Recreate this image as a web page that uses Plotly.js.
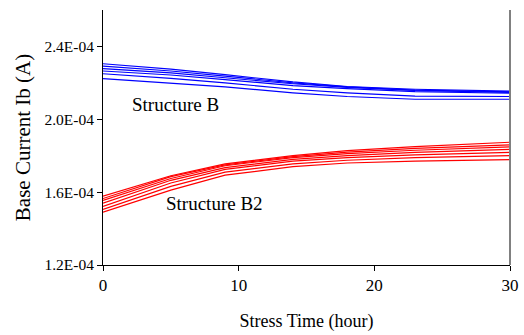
<!DOCTYPE html>
<html><head><meta charset="utf-8">
<script src="https://cdn.plot.ly/plotly-3.0.1.min.js"></script>
<style>html,body{margin:0;padding:0;background:#fff;}#chart{width:524px;height:335px;}</style>
</head><body><div id="chart"></div>
<script>
const hours = [0, 5, 9, 14, 18, 23, 30];
// Structure B (Ib in units of 1E-04 A)
const structB = [
  [2.305, 2.275, 2.245, 2.205, 2.180, 2.165, 2.155],
  [2.292, 2.265, 2.237, 2.200, 2.178, 2.160, 2.150],
  [2.278, 2.255, 2.228, 2.195, 2.175, 2.158, 2.148],
  [2.265, 2.243, 2.218, 2.185, 2.168, 2.152, 2.143],
  [2.250, 2.225, 2.200, 2.165, 2.145, 2.127, 2.125],
  [2.223, 2.200, 2.178, 2.145, 2.125, 2.110, 2.110]
];
// Structure B2
const structB2 = [
  [1.578, 1.690, 1.755, 1.800, 1.828, 1.850, 1.874],
  [1.565, 1.685, 1.750, 1.795, 1.820, 1.840, 1.860],
  [1.555, 1.675, 1.745, 1.790, 1.812, 1.830, 1.848],
  [1.540, 1.665, 1.735, 1.780, 1.800, 1.818, 1.835],
  [1.522, 1.650, 1.725, 1.770, 1.790, 1.805, 1.818],
  [1.505, 1.632, 1.710, 1.755, 1.775, 1.790, 1.800],
  [1.490, 1.611, 1.693, 1.740, 1.760, 1.770, 1.778]
];
const yTickVals = [1.2e-4, 1.6e-4, 2.0e-4, 2.4e-4];
const yTickText = ['1.2E-04', '1.6E-04', '2.0E-04', '2.4E-04'];
const xTickVals = [0, 10, 20, 30];

const traces = [];
structB.forEach(s => traces.push({x: hours, y: s.map(v => v * 1e-4), mode: 'lines', line: {color: '#0000ff', width: 1.2}, showlegend: false}));
structB2.forEach(s => traces.push({x: hours, y: s.map(v => v * 1e-4), mode: 'lines', line: {color: '#ff0000', width: 1.2}, showlegend: false}));

const fam = 'Liberation Serif';
const layout = {
  width: 524, height: 335,
  margin: {l: 103, r: 14, t: 10, b: 70},
  paper_bgcolor: '#fff', plot_bgcolor: '#fff',
  font: {family: fam, size: 15, color: '#000'},
  xaxis: {range: [0, 30], tickvals: xTickVals, ticks: 'outside', ticklen: 5, tickcolor: '#000',
    showline: true, linecolor: '#000', linewidth: 1, showgrid: false, zeroline: false,
    tickfont: {family: fam, size: 17, color: '#000'},
    title: {text: 'Stress Time (hour)', font: {family: fam, size: 18, color: '#000'}, standoff: 19}},
  yaxis: {range: [1.2e-4, 2.6e-4], tickvals: yTickVals, ticktext: yTickText, ticks: 'outside', ticklen: 5, tickcolor: '#000',
    showline: true, linecolor: '#000', linewidth: 1, showgrid: false, zeroline: false,
    tickfont: {family: fam, size: 15.5, color: '#000'},
    title: {text: 'Base Current Ib (A)', font: {family: fam, size: 21, color: '#000'}, standoff: 8}},
  shapes: [{type: 'line', xref: 'paper', yref: 'paper', x0: 1, x1: 1, y0: 0, y1: 1, line: {color: '#808080', width: 2}}],
  annotations: [
    {x: 2.0, y: 2.08e-4, xref: 'x', yref: 'y', text: 'Structure B', showarrow: false, xanchor: 'left', yanchor: 'middle', font: {family: fam, size: 19, color: '#000'}},
    {x: 4.5, y: 1.54e-4, xref: 'x', yref: 'y', text: 'Structure B2', showarrow: false, xanchor: 'left', yanchor: 'middle', font: {family: fam, size: 19, color: '#000'}}
  ]
};
Plotly.newPlot('chart', traces, layout, {displayModeBar: false, staticPlot: true});
</script></body></html>
